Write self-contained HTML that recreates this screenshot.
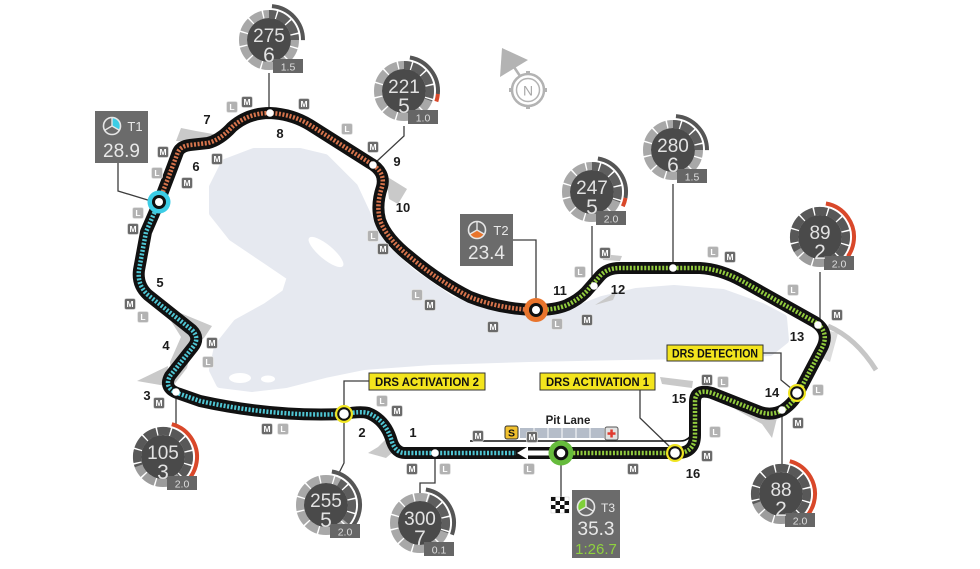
<!DOCTYPE html>
<html><head><meta charset="utf-8"><style>
body{margin:0;background:#fff}
svg{display:block}
text{font-family:"Liberation Sans",sans-serif}
.tn{font-size:13px;font-weight:bold;fill:#1c1c1c;text-anchor:middle}
.gs{font-size:19px;fill:#e2e2e2;text-anchor:middle}
.gg{font-size:21px;fill:#e2e2e2;text-anchor:middle}
.gb{font-size:10.5px;fill:#dedede;text-anchor:middle}
.mk{font-size:8.5px;font-weight:bold;fill:#fff;text-anchor:middle}
.rm{fill:#6a6a6a;stroke:#dcdcdc;stroke-width:.8}
.rl{fill:#b2b2b2;stroke:#e6e6e6;stroke-width:.8}
.drs{font-size:11.5px;font-weight:bold;fill:#111}
.tb{fill:#e8e8e8;text-anchor:middle}
.cn{fill:none;stroke:#3d3d3d;stroke-width:1.3}
</style></head><body>
<svg width="980" height="569" viewBox="0 0 980 569" xmlns="http://www.w3.org/2000/svg">
<rect width="980" height="569" fill="#fff"/>

<!-- lake -->
<polygon fill="#e6e9f0" stroke="#e6e9f0" stroke-width="8" stroke-linejoin="round" points="213,187 225,163 254,152 300,152 325,158 354,187 368,217 383,247 412,273 451,300 490,313 529,317 568,313 602,300 636,292 674,289 723,293 762,307 783,318 785,340 770,352 699,355 626,356 529,358 432,361 364,366 325,374 286,384 252,388 220,384 213,370 218,347 237,323 266,307 286,293 291,277 266,260 232,237 213,213"/>
<ellipse cx="326" cy="252" rx="22" ry="7" transform="rotate(40 326 252)" fill="#fff"/>
<ellipse cx="240" cy="378" rx="11" ry="5" fill="#fff"/>
<ellipse cx="268" cy="379" rx="7" ry="3.5" fill="#fff"/>

<!-- runoff areas -->
<g fill="#c9c9c9">
<polygon points="176,141 181,128 196,131 213,134 209,143"/>
<polygon points="386,176 407,189 398,204 389,199"/>
<polygon points="161,305 212,326 204,338 192,346 187,368 173,386 170,362 181,337"/>
<polygon points="137,381 168,366 166,386"/>
<polygon points="388,437 378,447 368,453 386,458 393,452"/>
<polygon points="595,305 617,291 613,300"/>
<polygon points="602,254 622,256 620,261 603,260"/>
<polygon points="735,409 778,414 772,438 762,424"/>
<polygon points="660,377 693,381 692,388 662,384"/>
</g>
<polygon points="826,330 838,333 830,362 822,358" fill="#dcdcdc"/>
<path d="M828 326 Q856 338 876 370" fill="none" stroke="#c6c6c6" stroke-width="5"/>

<!-- compass -->
<g stroke="#b3b3b3" fill="none">
<circle cx="528" cy="90" r="16" stroke-width="2.5"/>
<circle cx="528" cy="90" r="11.5" stroke-width="1.5"/>
<line x1="520" y1="76" x2="512" y2="64" stroke-width="2.5"/>
</g>
<g fill="#b3b3b3">
<rect x="526" y="71" width="4" height="4"/><rect x="526" y="105" width="4" height="4"/>
<rect x="509" y="88" width="4" height="4"/><rect x="543" y="88" width="4" height="4"/>
<polygon points="502,48 500,77 528,60"/>
</g>
<text x="528" y="95.5" font-size="14" fill="#a8a8a8" text-anchor="middle">N</text>

<!-- connectors -->
<path class="cn" d="M118 163 V191 L151 201"/>
<path class="cn" d="M269 73 V108"/>
<path class="cn" d="M404 126 V136 L376 162"/>
<path class="cn" d="M513 240 H536 V299"/>
<path class="cn" d="M592 226 V282"/>
<path class="cn" d="M673 184 V264"/>
<path class="cn" d="M820 272 V321"/>
<path class="cn" d="M763 353 H781 V380 L792 389"/>
<path class="cn" d="M782 414 V464"/>
<path class="cn" d="M640 390 V418 L670 447"/>
<path class="cn" d="M369 381 H344 V405"/>
<path class="cn" d="M344 423 V463 L338 475"/>
<path class="cn" d="M435 457 V483 H420 V493"/>
<path class="cn" d="M176 396 V427"/>
<path class="cn" d="M561 465 V497"/>

<!-- pit lane -->
<path d="M470 441 L680 441 Q692 441 694 426" fill="none" stroke="#111" stroke-width="1.6"/>
<rect x="520" y="428" width="84" height="10" fill="#b5bdc9"/>
<g stroke="#fff" stroke-width="1"><line x1="534" y1="428" x2="534" y2="438"/><line x1="548" y1="428" x2="548" y2="438"/><line x1="562" y1="428" x2="562" y2="438"/><line x1="576" y1="428" x2="576" y2="438"/><line x1="590" y1="428" x2="590" y2="438"/></g>
<rect x="505" y="426" width="13" height="13" rx="2" fill="#f2c12e" stroke="#333" stroke-width="1"/>
<text x="511.5" y="436.5" font-size="10.5" font-weight="bold" fill="#111" text-anchor="middle">S</text>
<rect x="605" y="427" width="13" height="13" rx="2" fill="#e2e2e2" stroke="#555" stroke-width="1"/>
<rect x="607.5" y="432.3" width="8" height="2.5" fill="#e03a2f"/><rect x="610.3" y="429.5" width="2.5" height="8" fill="#e03a2f"/>
<text x="568" y="424" font-size="11.5" font-weight="bold" fill="#222" text-anchor="middle">Pit Lane</text>

<!-- track -->
<g fill="none" stroke-linecap="round" stroke-linejoin="round" stroke="#111" stroke-width="12">
<path d="M561 453 L405 453 Q396 453 392 442 Q386 420 368 413 Q360 411 344 414 C300 416 250 412 200 401 L180 394 Q163 389 170 376 L193 347 Q200 338 192 330 L148 295 Q137 285 139 270 L146 232 L159 202"/>
<path d="M159 202 L172 168 L178 152 Q181 146 190 145 L208 143 Q220 140 232 127 Q248 113 270 113 Q292 114 310 125 L370 163 Q386 172 382 187 Q376 205 380 220 Q386 238 410 257 Q440 282 470 297 Q500 309 536 310"/>
<path d="M536 310 Q555 310 567 305 Q578 300 586 292 L600 276 Q607 268 620 268 L700 268 Q720 269 742 281 L815 322 Q830 332 822 348 L801 388 Q795 402 783 410 Q772 416 760 412 L712 393 Q695 388 695 402 L695 435 Q695 453 677 453 L561 453"/>
</g>
<g fill="none" stroke-linejoin="round" stroke-width="4.5" stroke-dasharray="2 1.6">
<path stroke="#4fc6d4" d="M561 453 L405 453 Q396 453 392 442 Q386 420 368 413 Q360 411 344 414 C300 416 250 412 200 401 L180 394 Q163 389 170 376 L193 347 Q200 338 192 330 L148 295 Q137 285 139 270 L146 232 L159 202"/>
<path stroke="#d7744c" d="M159 202 L172 168 L178 152 Q181 146 190 145 L208 143 Q220 140 232 127 Q248 113 270 113 Q292 114 310 125 L370 163 Q386 172 382 187 Q376 205 380 220 Q386 238 410 257 Q440 282 470 297 Q500 309 536 310"/>
<path stroke="#92cc3e" d="M536 310 Q555 310 567 305 Q578 300 586 292 L600 276 Q607 268 620 268 L700 268 Q720 269 742 281 L815 322 Q830 332 822 348 L801 388 Q795 402 783 410 Q772 416 760 412 L712 393 Q695 388 695 402 L695 435 Q695 453 677 453 L561 453"/>
</g>
<!-- arrow -->
<rect x="516" y="448" width="34" height="10" fill="#111"/>
<polygon points="517,453 528,446.5 528,450.5 549,450.5 549,455.5 528,455.5 528,459.5" fill="#fff"/>

<!-- white dots -->
<g fill="#fff">
<circle cx="270" cy="113" r="3.8"/><circle cx="373" cy="165" r="3.8"/><circle cx="176" cy="392" r="3.8"/><circle cx="435" cy="453" r="3.8"/><circle cx="594" cy="286" r="3.8"/><circle cx="673" cy="268" r="3.8"/><circle cx="818" cy="325" r="3.8"/><circle cx="782" cy="410" r="3.8"/>
</g>
<!-- sector circles -->
<circle cx="159" cy="202" r="11.5" fill="#3ccde6"/><circle cx="159" cy="202" r="7" fill="#111"/><circle cx="159" cy="202" r="4" fill="#fff"/>
<circle cx="536" cy="310" r="12" fill="#e8742c"/><circle cx="536" cy="310" r="7" fill="#111"/><circle cx="536" cy="310" r="4" fill="#fff"/>
<circle cx="561" cy="453" r="12.5" fill="#66bb3c"/><circle cx="561" cy="453" r="7.3" fill="#111"/><circle cx="561" cy="453" r="4.3" fill="#fff"/>
<g><circle cx="344" cy="414" r="9" fill="#f0e521"/><circle cx="344" cy="414" r="6.8" fill="#111"/><circle cx="344" cy="414" r="4.8" fill="#fff"/></g>
<g><circle cx="675" cy="453" r="9" fill="#f0e521"/><circle cx="675" cy="453" r="6.8" fill="#111"/><circle cx="675" cy="453" r="4.8" fill="#fff"/></g>
<g><circle cx="797" cy="393" r="9" fill="#f0e521"/><circle cx="797" cy="393" r="6.8" fill="#111"/><circle cx="797" cy="393" r="4.8" fill="#fff"/></g>

<!-- M / L markers -->
<g transform="translate(247,102)"><rect x="-5.5" y="-5.5" width="11" height="11" rx="2" class="rm"/><text y="3" class="mk">M</text></g>
<g transform="translate(304,104)"><rect x="-5.5" y="-5.5" width="11" height="11" rx="2" class="rm"/><text y="3" class="mk">M</text></g>
<g transform="translate(373,147)"><rect x="-5.5" y="-5.5" width="11" height="11" rx="2" class="rm"/><text y="3" class="mk">M</text></g>
<g transform="translate(163,152)"><rect x="-5.5" y="-5.5" width="11" height="11" rx="2" class="rm"/><text y="3" class="mk">M</text></g>
<g transform="translate(217,159)"><rect x="-5.5" y="-5.5" width="11" height="11" rx="2" class="rm"/><text y="3" class="mk">M</text></g>
<g transform="translate(187,183)"><rect x="-5.5" y="-5.5" width="11" height="11" rx="2" class="rm"/><text y="3" class="mk">M</text></g>
<g transform="translate(133,229)"><rect x="-5.5" y="-5.5" width="11" height="11" rx="2" class="rm"/><text y="3" class="mk">M</text></g>
<g transform="translate(383,249)"><rect x="-5.5" y="-5.5" width="11" height="11" rx="2" class="rm"/><text y="3" class="mk">M</text></g>
<g transform="translate(430,305)"><rect x="-5.5" y="-5.5" width="11" height="11" rx="2" class="rm"/><text y="3" class="mk">M</text></g>
<g transform="translate(493,327)"><rect x="-5.5" y="-5.5" width="11" height="11" rx="2" class="rm"/><text y="3" class="mk">M</text></g>
<g transform="translate(130,304)"><rect x="-5.5" y="-5.5" width="11" height="11" rx="2" class="rm"/><text y="3" class="mk">M</text></g>
<g transform="translate(212,343)"><rect x="-5.5" y="-5.5" width="11" height="11" rx="2" class="rm"/><text y="3" class="mk">M</text></g>
<g transform="translate(159,403)"><rect x="-5.5" y="-5.5" width="11" height="11" rx="2" class="rm"/><text y="3" class="mk">M</text></g>
<g transform="translate(267,429)"><rect x="-5.5" y="-5.5" width="11" height="11" rx="2" class="rm"/><text y="3" class="mk">M</text></g>
<g transform="translate(397,411)"><rect x="-5.5" y="-5.5" width="11" height="11" rx="2" class="rm"/><text y="3" class="mk">M</text></g>
<g transform="translate(478,436)"><rect x="-5.5" y="-5.5" width="11" height="11" rx="2" class="rm"/><text y="3" class="mk">M</text></g>
<g transform="translate(412,469)"><rect x="-5.5" y="-5.5" width="11" height="11" rx="2" class="rm"/><text y="3" class="mk">M</text></g>
<g transform="translate(587,320)"><rect x="-5.5" y="-5.5" width="11" height="11" rx="2" class="rm"/><text y="3" class="mk">M</text></g>
<g transform="translate(605,253)"><rect x="-5.5" y="-5.5" width="11" height="11" rx="2" class="rm"/><text y="3" class="mk">M</text></g>
<g transform="translate(730,257)"><rect x="-5.5" y="-5.5" width="11" height="11" rx="2" class="rm"/><text y="3" class="mk">M</text></g>
<g transform="translate(837,315)"><rect x="-5.5" y="-5.5" width="11" height="11" rx="2" class="rm"/><text y="3" class="mk">M</text></g>
<g transform="translate(707,380)"><rect x="-5.5" y="-5.5" width="11" height="11" rx="2" class="rm"/><text y="3" class="mk">M</text></g>
<g transform="translate(798,423)"><rect x="-5.5" y="-5.5" width="11" height="11" rx="2" class="rm"/><text y="3" class="mk">M</text></g>
<g transform="translate(707,456)"><rect x="-5.5" y="-5.5" width="11" height="11" rx="2" class="rm"/><text y="3" class="mk">M</text></g>
<g transform="translate(633,469)"><rect x="-5.5" y="-5.5" width="11" height="11" rx="2" class="rm"/><text y="3" class="mk">M</text></g>
<g transform="translate(532,437)"><rect x="-5.5" y="-5.5" width="11" height="11" rx="2" class="rm"/><text y="3" class="mk">M</text></g>

<g transform="translate(232,107)"><rect x="-5.5" y="-5.5" width="11" height="11" rx="2" class="rl"/><text y="3" class="mk">L</text></g>
<g transform="translate(347,129)"><rect x="-5.5" y="-5.5" width="11" height="11" rx="2" class="rl"/><text y="3" class="mk">L</text></g>
<g transform="translate(157,173)"><rect x="-5.5" y="-5.5" width="11" height="11" rx="2" class="rl"/><text y="3" class="mk">L</text></g>
<g transform="translate(138,213)"><rect x="-5.5" y="-5.5" width="11" height="11" rx="2" class="rl"/><text y="3" class="mk">L</text></g>
<g transform="translate(373,236)"><rect x="-5.5" y="-5.5" width="11" height="11" rx="2" class="rl"/><text y="3" class="mk">L</text></g>
<g transform="translate(417,295)"><rect x="-5.5" y="-5.5" width="11" height="11" rx="2" class="rl"/><text y="3" class="mk">L</text></g>
<g transform="translate(143,317)"><rect x="-5.5" y="-5.5" width="11" height="11" rx="2" class="rl"/><text y="3" class="mk">L</text></g>
<g transform="translate(208,362)"><rect x="-5.5" y="-5.5" width="11" height="11" rx="2" class="rl"/><text y="3" class="mk">L</text></g>
<g transform="translate(283,429)"><rect x="-5.5" y="-5.5" width="11" height="11" rx="2" class="rl"/><text y="3" class="mk">L</text></g>
<g transform="translate(382,401)"><rect x="-5.5" y="-5.5" width="11" height="11" rx="2" class="rl"/><text y="3" class="mk">L</text></g>
<g transform="translate(445,469)"><rect x="-5.5" y="-5.5" width="11" height="11" rx="2" class="rl"/><text y="3" class="mk">L</text></g>
<g transform="translate(557,324)"><rect x="-5.5" y="-5.5" width="11" height="11" rx="2" class="rl"/><text y="3" class="mk">L</text></g>
<g transform="translate(580,272)"><rect x="-5.5" y="-5.5" width="11" height="11" rx="2" class="rl"/><text y="3" class="mk">L</text></g>
<g transform="translate(713,252)"><rect x="-5.5" y="-5.5" width="11" height="11" rx="2" class="rl"/><text y="3" class="mk">L</text></g>
<g transform="translate(793,290)"><rect x="-5.5" y="-5.5" width="11" height="11" rx="2" class="rl"/><text y="3" class="mk">L</text></g>
<g transform="translate(723,382)"><rect x="-5.5" y="-5.5" width="11" height="11" rx="2" class="rl"/><text y="3" class="mk">L</text></g>
<g transform="translate(818,390)"><rect x="-5.5" y="-5.5" width="11" height="11" rx="2" class="rl"/><text y="3" class="mk">L</text></g>
<g transform="translate(715,432)"><rect x="-5.5" y="-5.5" width="11" height="11" rx="2" class="rl"/><text y="3" class="mk">L</text></g>
<g transform="translate(529,469)"><rect x="-5.5" y="-5.5" width="11" height="11" rx="2" class="rl"/><text y="3" class="mk">L</text></g>

<!-- turn numbers -->
<text class="tn" x="413" y="437">1</text>
<text class="tn" x="362" y="437">2</text>
<text class="tn" x="147" y="400">3</text>
<text class="tn" x="166" y="350">4</text>
<text class="tn" x="160" y="287">5</text>
<text class="tn" x="196" y="171">6</text>
<text class="tn" x="207" y="124">7</text>
<text class="tn" x="280" y="138">8</text>
<text class="tn" x="397" y="166">9</text>
<text class="tn" x="403" y="212">10</text>
<text class="tn" x="560" y="295">11</text>
<text class="tn" x="618" y="294">12</text>
<text class="tn" x="797" y="341">13</text>
<text class="tn" x="772" y="397">14</text>
<text class="tn" x="679" y="403">15</text>
<text class="tn" x="693" y="478">16</text>

<!-- DRS labels -->
<rect x="369" y="373" width="116" height="17" fill="#f3e41d" stroke="#333" stroke-width="1"/>
<text class="drs" x="375" y="386" textLength="104" lengthAdjust="spacingAndGlyphs">DRS ACTIVATION 2</text>
<rect x="540" y="373" width="115" height="17" fill="#f3e41d" stroke="#333" stroke-width="1"/>
<text class="drs" x="546" y="386" textLength="103" lengthAdjust="spacingAndGlyphs">DRS ACTIVATION 1</text>
<rect x="667" y="345" width="96" height="16" fill="#f3e41d" stroke="#333" stroke-width="1"/>
<text class="drs" x="672" y="357.5" textLength="86" lengthAdjust="spacingAndGlyphs">DRS DETECTION</text>

<!-- T boxes -->
<rect x="95" y="111" width="53" height="52" fill="#6b6b6b"/>
<path d="M112 126 L112 117.5 A8.5 8.5 0 0 1 119.36 130.25 Z" fill="#3ccde6"/>
<circle cx="112" cy="126" r="8.5" fill="none" stroke="#e6e6e6" stroke-width="1.6"/>
<path d="M112 126 V117.5 M112 126 L119.36 130.25 M112 126 L104.64 130.25" stroke="#e6e6e6" stroke-width="1.4"/>
<text class="tb" x="135" y="131" font-size="13">T1</text>
<text class="tb" x="121.5" y="157" font-size="19">28.9</text>

<rect x="460" y="214" width="53" height="52" fill="#6b6b6b"/>
<path d="M477 230 L484.36 234.25 A8.5 8.5 0 0 1 469.64 234.25 Z" fill="#e8742c"/>
<circle cx="477" cy="230" r="8.5" fill="none" stroke="#e6e6e6" stroke-width="1.6"/>
<path d="M477 230 V221.5 M477 230 L484.36 234.25 M477 230 L469.64 234.25" stroke="#e6e6e6" stroke-width="1.4"/>
<text class="tb" x="501" y="235" font-size="13">T2</text>
<text class="tb" x="486.5" y="259" font-size="19">23.4</text>

<rect x="572" y="490" width="48" height="68" fill="#6b6b6b"/>
<path d="M586 507 L578.64 511.25 A8.5 8.5 0 0 1 586 498.5 Z" fill="#7fd03a"/>
<circle cx="586" cy="507" r="8.5" fill="none" stroke="#e6e6e6" stroke-width="1.6"/>
<path d="M586 507 V498.5 M586 507 L593.36 511.25 M586 507 L578.64 511.25" stroke="#e6e6e6" stroke-width="1.4"/>
<text class="tb" x="608" y="512" font-size="12">T3</text>
<text class="tb" x="596" y="535" font-size="19">35.3</text>
<text x="596" y="554" font-size="15" fill="#8fd13f" text-anchor="middle">1:26.7</text>

<!-- checkered flag -->
<rect x="551" y="497" width="18" height="16" fill="#fff" stroke="#ccc" stroke-width=".5"/>
<g fill="#111">
<rect x="551" y="497" width="4.5" height="4"/><rect x="560" y="497" width="4.5" height="4"/>
<rect x="555.5" y="501" width="4.5" height="4"/><rect x="564.5" y="501" width="4.5" height="4"/>
<rect x="551" y="505" width="4.5" height="4"/><rect x="560" y="505" width="4.5" height="4"/>
<rect x="555.5" y="509" width="4.5" height="4"/><rect x="564.5" y="509" width="4.5" height="4"/>
</g>

<!-- gauges -->
<g transform="translate(269,40)">
<circle r="26" fill="none" stroke="#a8a8a8" stroke-width="8"/>
<circle r="26" fill="none" stroke="#5e5e5e" stroke-width="8" stroke-dasharray="40.8 300" transform="rotate(-90)"/>
<circle r="26" fill="none" stroke="#fff" stroke-width="8.5" stroke-dasharray="1.4 12.21" transform="rotate(15)"/>
<circle r="22" fill="#4a4a4a"/>
<circle r="34" fill="none" stroke="#555" stroke-width="4" stroke-dasharray="50.4 300" transform="rotate(-85)"/>
<rect x="4" y="19" width="30" height="14" fill="#666"/>
<text x="19" y="30.5" class="gb">1.5</text>
<text y="2" class="gs">275</text><text y="22" class="gg">6</text>
</g>

<g transform="translate(404,91)">
<circle r="26" fill="none" stroke="#a8a8a8" stroke-width="8"/>
<circle r="26" fill="none" stroke="#5e5e5e" stroke-width="8" stroke-dasharray="49.9 300" transform="rotate(-90)"/>
<circle r="26" fill="none" stroke="#fff" stroke-width="8.5" stroke-dasharray="1.4 12.21" transform="rotate(15)"/>
<circle r="22" fill="#4a4a4a"/>
<circle r="34" fill="none" stroke="#555" stroke-width="4" stroke-dasharray="50.4 300" transform="rotate(-80)"/>
<circle r="34" fill="none" stroke="#d9482a" stroke-width="4" stroke-dasharray="7.7 300" transform="rotate(5)"/>
<rect x="4" y="19" width="30" height="14" fill="#666"/>
<text x="19" y="30.5" class="gb">1.0</text>
<text y="2" class="gs">221</text><text y="22" class="gg">5</text>
</g>

<g transform="translate(592,192)">
<circle r="26" fill="none" stroke="#a8a8a8" stroke-width="8"/>
<circle r="26" fill="none" stroke="#5e5e5e" stroke-width="8" stroke-dasharray="49.9 300" transform="rotate(-90)"/>
<circle r="26" fill="none" stroke="#fff" stroke-width="8.5" stroke-dasharray="1.4 12.21" transform="rotate(15)"/>
<circle r="22" fill="#4a4a4a"/>
<circle r="34" fill="none" stroke="#555" stroke-width="4" stroke-dasharray="53.4 300" transform="rotate(-80)"/>
<circle r="34" fill="none" stroke="#d9482a" stroke-width="4" stroke-dasharray="8.9 300" transform="rotate(10)"/>
<rect x="4" y="19" width="30" height="14" fill="#666"/>
<text x="19" y="30.5" class="gb">2.0</text>
<text y="2" class="gs">247</text><text y="22" class="gg">5</text>
</g>

<g transform="translate(673,150)">
<circle r="26" fill="none" stroke="#a8a8a8" stroke-width="8"/>
<circle r="26" fill="none" stroke="#5e5e5e" stroke-width="8" stroke-dasharray="40.8 300" transform="rotate(-90)"/>
<circle r="26" fill="none" stroke="#fff" stroke-width="8.5" stroke-dasharray="1.4 12.21" transform="rotate(15)"/>
<circle r="22" fill="#4a4a4a"/>
<circle r="34" fill="none" stroke="#555" stroke-width="4" stroke-dasharray="50.4 300" transform="rotate(-85)"/>
<rect x="4" y="19" width="30" height="14" fill="#666"/>
<text x="19" y="30.5" class="gb">1.5</text>
<text y="2" class="gs">280</text><text y="22" class="gg">6</text>
</g>

<g transform="translate(820,237)">
<circle r="26" fill="none" stroke="#9c9c9c" stroke-width="8"/>
<circle r="26" fill="none" stroke="#585858" stroke-width="8" stroke-dasharray="122.5 300" transform="rotate(150)"/>
<circle r="26" fill="none" stroke="#fff" stroke-width="8.5" stroke-dasharray="1.4 12.21" transform="rotate(15)"/>
<circle r="22" fill="#4a4a4a"/>
<circle r="34" fill="none" stroke="#d9482a" stroke-width="4" stroke-dasharray="68.2 300" transform="rotate(-80)"/>
<rect x="4" y="19" width="30" height="14" fill="#666"/>
<text x="19" y="30.5" class="gb">2.0</text>
<text y="2" class="gs">89</text><text y="22" class="gg">2</text>
</g>

<g transform="translate(163,457)">
<circle r="26" fill="none" stroke="#9c9c9c" stroke-width="8"/>
<circle r="26" fill="none" stroke="#585858" stroke-width="8" stroke-dasharray="113.5 300" transform="rotate(160)"/>
<circle r="26" fill="none" stroke="#fff" stroke-width="8.5" stroke-dasharray="1.4 12.21" transform="rotate(15)"/>
<circle r="22" fill="#4a4a4a"/>
<circle r="34" fill="none" stroke="#d9482a" stroke-width="4" stroke-dasharray="83.1 300" transform="rotate(-75)"/>
<rect x="4" y="19" width="30" height="14" fill="#666"/>
<text x="19" y="30.5" class="gb">2.0</text>
<text y="2" class="gs">105</text><text y="22" class="gg">3</text>
</g>

<g transform="translate(326,505)">
<circle r="26" fill="none" stroke="#a8a8a8" stroke-width="8"/>
<circle r="26" fill="none" stroke="#5e5e5e" stroke-width="8" stroke-dasharray="45.4 300" transform="rotate(-60)"/>
<circle r="26" fill="none" stroke="#fff" stroke-width="8.5" stroke-dasharray="1.4 12.21" transform="rotate(15)"/>
<circle r="22" fill="#4a4a4a"/>
<circle r="34" fill="none" stroke="#555" stroke-width="4" stroke-dasharray="71.2 300" transform="rotate(-80)"/>
<rect x="4" y="19" width="30" height="14" fill="#666"/>
<text x="19" y="30.5" class="gb">2.0</text>
<text y="2" class="gs">255</text><text y="22" class="gg">5</text>
</g>

<g transform="translate(420,523)">
<circle r="26" fill="none" stroke="#a8a8a8" stroke-width="8"/>
<circle r="26" fill="none" stroke="#5e5e5e" stroke-width="8" stroke-dasharray="40.8 300" transform="rotate(-70)"/>
<circle r="26" fill="none" stroke="#fff" stroke-width="8.5" stroke-dasharray="1.4 12.21" transform="rotate(15)"/>
<circle r="22" fill="#4a4a4a"/>
<circle r="34" fill="none" stroke="#555" stroke-width="4" stroke-dasharray="59.3 300" transform="rotate(-80)"/>
<rect x="4" y="19" width="30" height="14" fill="#666"/>
<text x="19" y="30.5" class="gb">0.1</text>
<text y="2" class="gs">300</text><text y="22" class="gg">7</text>
</g>

<g transform="translate(781,494)">
<circle r="26" fill="none" stroke="#9c9c9c" stroke-width="8"/>
<circle r="26" fill="none" stroke="#585858" stroke-width="8" stroke-dasharray="118 300" transform="rotate(160)"/>
<circle r="26" fill="none" stroke="#fff" stroke-width="8.5" stroke-dasharray="1.4 12.21" transform="rotate(15)"/>
<circle r="22" fill="#4a4a4a"/>
<circle r="34" fill="none" stroke="#d9482a" stroke-width="4" stroke-dasharray="68.2 300" transform="rotate(-75)"/>
<rect x="4" y="19" width="30" height="14" fill="#666"/>
<text x="19" y="30.5" class="gb">2.0</text>
<text y="2" class="gs">88</text><text y="22" class="gg">2</text>
</g>

</svg>
</body></html>
